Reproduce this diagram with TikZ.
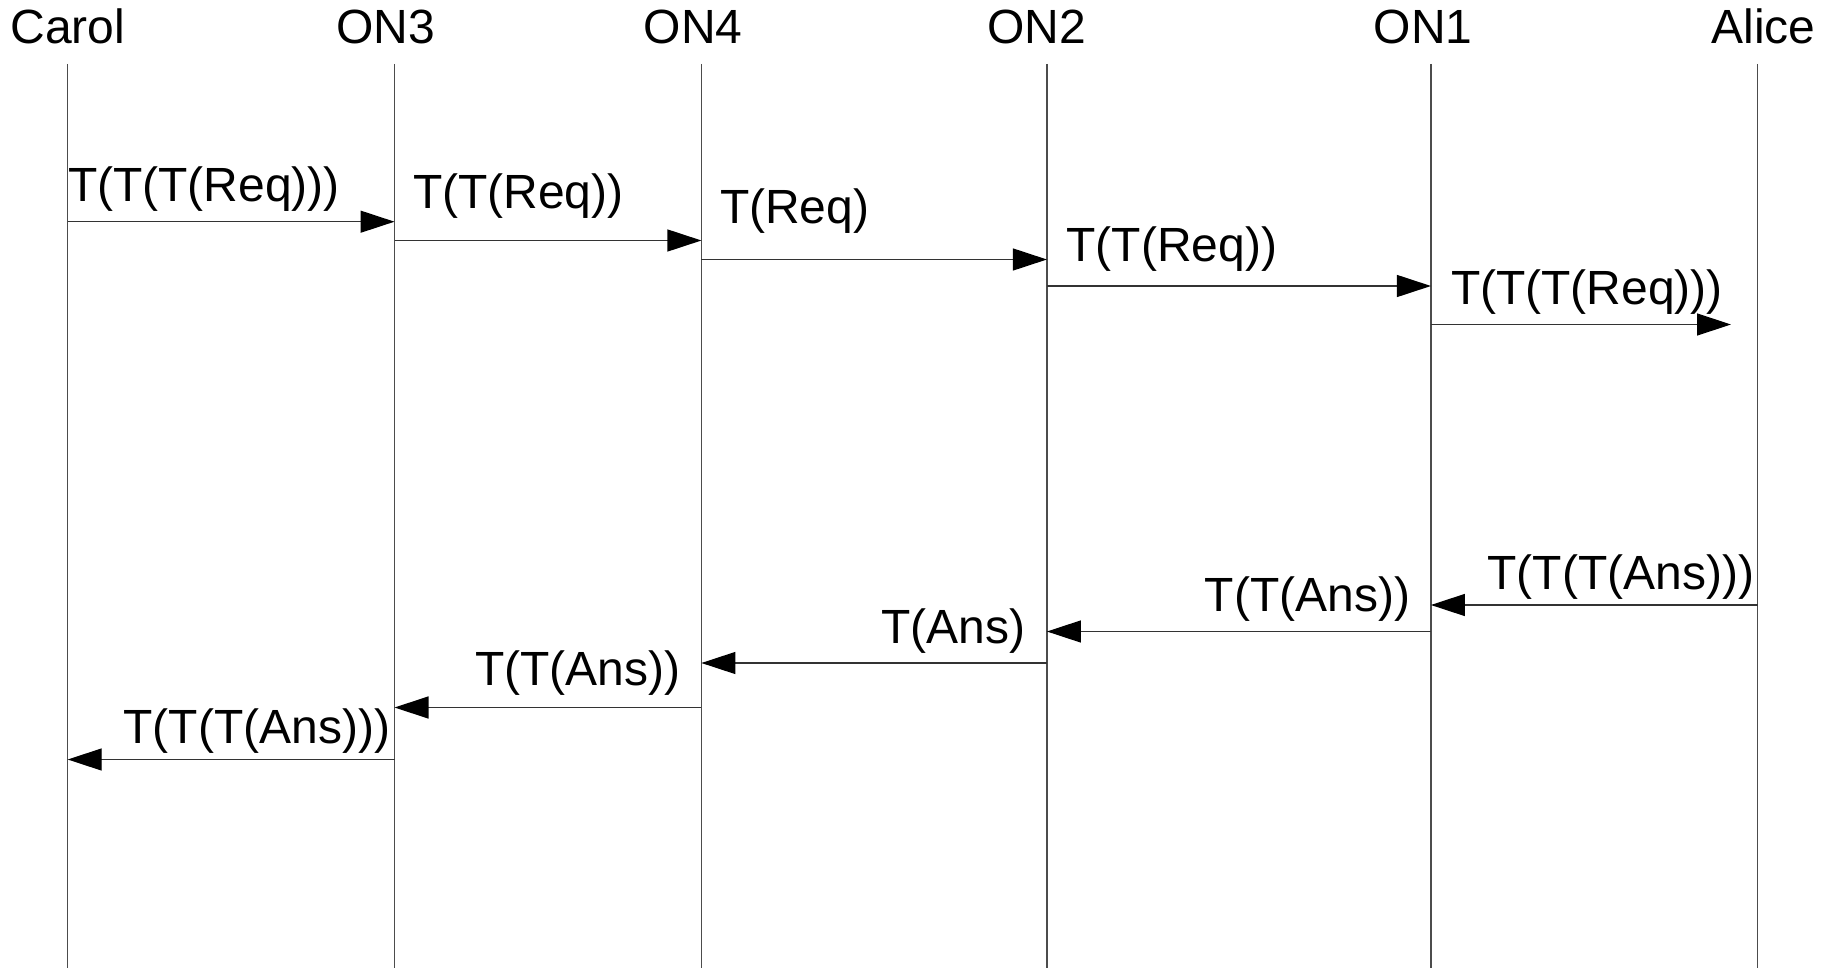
\documentclass[tikz,border=0pt]{standalone}
\usepackage{fontspec}
\setmainfont{Liberation Sans}
\usetikzlibrary{arrows.meta}
\begin{document}
\begin{tikzpicture}[x=1pt,y=-1pt,
  txt/.style={inner sep=0pt,outer sep=0pt,font=\fontsize{48}{58}\selectfont},
  head/.style={txt,anchor=base},
  lblfwd/.style={txt,anchor=base west},
  lblback/.style={txt,anchor=base east},
  life/.style={draw=black!70,line width=1.3pt},
  msg/.style={draw=black!80,line width=1.3pt,-{Triangle[length=34pt,width=22pt,color=black,fill=black]}}]
\useasboundingbox (0,0) rectangle (1830,968);

% participants
\node[head] (carol) at (68,43.5)     {Carol};
\node[head] (on3)   at (385.7,43.5)  {ON3};
\node[head] (on4)   at (693.3,43.5)  {ON4};
\node[head] (on2)   at (1036.4,43.5) {ON2};
\node[head] (on1)   at (1423,43.5)   {ON1};
\node[head] (alice) at (1763.4,43.5) {Alice};

% lifelines
\foreach \n/\x in {carol/67.7,on3/394.5,on4/701.4,on2/1046.9,on1/1430.9,alice/1757.7}{
  \coordinate (\n-top) at (\x,64);
  \coordinate (\n-bot) at (\x,968);
  \draw[life] (\n-top) -- (\n-bot);
}

% request path
\coordinate (q1a) at (carol-top |- 0,221.7);
\coordinate (q1b) at (on3-top |- 0,221.7);
\coordinate (q2a) at (on3-top |- 0,240.5);
\coordinate (q2b) at (on4-top |- 0,240.5);
\coordinate (q3a) at (on4-top |- 0,259.5);
\coordinate (q3b) at (on2-top |- 0,259.5);
\coordinate (q4a) at (on2-top |- 0,286);
\coordinate (q4b) at (on1-top |- 0,286);
\coordinate (q5a) at (on1-top |- 0,324.5);
\coordinate (q5b) at (1731,324.5);

\draw[msg] (q1a) -- (q1b);
\draw[msg] (q2a) -- (q2b);
\draw[msg] (q3a) -- (q3b);
\draw[msg] (q4a) -- (q4b);
\draw[msg] (q5a) -- (q5b);

\node[lblfwd] (lq1) at (68,201.7)    {T(T(T(Req)))};
\node[lblfwd] (lq2) at (413,209)     {T(T(Req))};
\node[lblfwd] (lq3) at (720,224)     {T(Req)};
\node[lblfwd] (lq4) at (1066.5,261.7){T(T(Req))};
\node[lblfwd] (lq5) at (1451,304.3)  {T(T(T(Req)))};

% answer path
\coordinate (a1a) at (alice-top |- 0,605);
\coordinate (a1b) at (on1-top |- 0,605);
\coordinate (a2a) at (on1-top |- 0,631.5);
\coordinate (a2b) at (on2-top |- 0,631.5);
\coordinate (a3a) at (on2-top |- 0,663);
\coordinate (a3b) at (on4-top |- 0,663);
\coordinate (a4a) at (on4-top |- 0,707.5);
\coordinate (a4b) at (on3-top |- 0,707.5);
\coordinate (a5a) at (on3-top |- 0,759.5);
\coordinate (a5b) at (carol-top |- 0,759.5);

\draw[msg] (a1a) -- (a1b);
\draw[msg] (a2a) -- (a2b);
\draw[msg] (a3a) -- (a3b);
\draw[msg] (a4a) -- (a4b);
\draw[msg] (a5a) -- (a5b);

\node[lblback] (la1) at (1754,589)   {T(T(T(Ans)))};
\node[lblback] (la2) at (1410,611.7) {T(T(Ans))};
\node[lblback] (la3) at (1025,643.3) {T(Ans)};
\node[lblback] (la4) at (680.4,685)  {T(T(Ans))};
\node[lblback] (la5) at (390,743.3)  {T(T(T(Ans)))};
\end{tikzpicture}
\end{document}
